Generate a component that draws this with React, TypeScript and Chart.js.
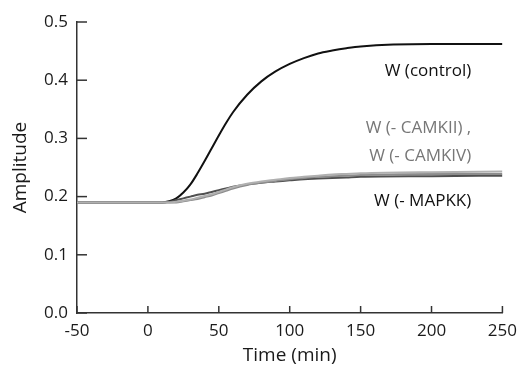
import React, { useEffect, useRef } from "react";
import { Chart, registerables } from "chart.js";

Chart.register(...registerables);

const times = [-50, 0, 10, 15, 20, 25, 30, 35, 40, 45, 50, 55, 60, 70, 80, 90, 100, 110, 120, 130, 140, 150, 200, 250];
const control = [0.19, 0.19, 0.19, 0.192, 0.197, 0.207, 0.221, 0.24, 0.261, 0.283, 0.305, 0.326, 0.345, 0.375, 0.398, 0.415, 0.428, 0.438, 0.446, 0.451, 0.455, 0.458, 0.462, 0.462];
const camkii = [0.19, 0.19, 0.19, 0.19, 0.191, 0.193, 0.195, 0.198, 0.201, 0.204, 0.208, 0.212, 0.216, 0.222, 0.226, 0.229, 0.232, 0.234, 0.236, 0.238, 0.239, 0.24, 0.242, 0.243];
const camkiv = [0.19, 0.19, 0.19, 0.19, 0.19, 0.192, 0.194, 0.196, 0.199, 0.202, 0.206, 0.21, 0.214, 0.22, 0.224, 0.227, 0.23, 0.232, 0.234, 0.235, 0.236, 0.237, 0.239, 0.239];
const mapkk = [0.19, 0.19, 0.19, 0.191, 0.194, 0.197, 0.2, 0.203, 0.205, 0.208, 0.211, 0.214, 0.217, 0.221, 0.224, 0.226, 0.228, 0.23, 0.231, 0.232, 0.233, 0.234, 0.235, 0.236];

const xTicks = [-50, 0, 50, 100, 150, 200, 250];
const yTicks = [0, 0.1, 0.2, 0.3, 0.4, 0.5];

const labelTexts = ["W (control)", "W (- CAMKII) ,", "W (- CAMKIV)", "W (- MAPKK)"];
const labelX = [228, 228, 228, 228];
const labelY = [0.415, 0.318, 0.269, 0.192];
const labelColors = ["#111111", "#777777", "#777777", "#111111"];

const FONT = "'Open Sans', sans-serif";

const toPts = (arr: number[]) => arr.map((v, i) => ({ x: times[i], y: v }));

const insideTicks = {
  id: "insideTicks",
  afterDatasetsDraw(chart: any) {
    const { ctx, scales } = chart;
    const xs = scales.x;
    const ys = scales.y;
    ctx.save();
    ctx.strokeStyle = "#333";
    ctx.lineWidth = 1.5;
    yTicks.forEach((v) => {
      const py = ys.getPixelForValue(v);
      ctx.beginPath();
      ctx.moveTo(xs.left, py);
      ctx.lineTo(xs.left + 10, py);
      ctx.stroke();
    });
    xTicks.forEach((v) => {
      const px = xs.getPixelForValue(v);
      ctx.beginPath();
      ctx.moveTo(px, ys.bottom);
      ctx.lineTo(px, ys.bottom - 7);
      ctx.stroke();
    });
    ctx.font = `17px ${FONT}`;
    ctx.textAlign = "right";
    ctx.textBaseline = "middle";
    labelTexts.forEach((t, i) => {
      ctx.fillStyle = labelColors[i];
      ctx.fillText(t, xs.getPixelForValue(labelX[i]), ys.getPixelForValue(labelY[i]));
    });
    ctx.restore();
  },
};

export default function App() {
  const ref = useRef<HTMLCanvasElement | null>(null);
  useEffect(() => {
    if (!ref.current) return;
    const line = (data: number[], color: string, w: number) => ({
      data: toPts(data),
      borderColor: color,
      borderWidth: w,
      pointRadius: 0,
      cubicInterpolationMode: "monotone" as const,
      fill: false,
    });
    const chart = new Chart(ref.current, {
      type: "line",
      data: {
        datasets: [
          line(camkii, "#b0b0b0", 2),
          line(camkiv, "#8c8c8c", 2),
          line(mapkk, "#505050", 2),
          line(control, "#111111", 2),
        ],
      },
      options: {
        animation: false,
        responsive: false,
        maintainAspectRatio: false,
        layout: { padding: { left: 0, top: 22, right: 18, bottom: 0 } },
        plugins: { legend: { display: false }, tooltip: { enabled: false } },
        scales: {
          x: {
            type: "linear",
            min: -50,
            max: 250,
            afterFit: (s: any) => {
              s.height = 54;
            },
            afterBuildTicks: (s: any) => {
              s.ticks = xTicks.map((v) => ({ value: v }));
            },
            grid: { display: false, drawTicks: false },
            border: { display: true, color: "#333", width: 1.5 },
            ticks: {
              color: "#1a1a1a",
              font: { family: FONT, size: 17 },
              padding: 8,
              maxRotation: 0,
              autoSkip: false,
            },
            title: {
              display: true,
              text: "Time (min)",
              color: "#1a1a1a",
              font: { family: FONT, size: 19 },
              padding: { top: 0, bottom: 0 },
            },
          },
          y: {
            min: 0,
            max: 0.5,
            afterFit: (s: any) => {
              s.width = 77;
            },
            afterBuildTicks: (s: any) => {
              s.ticks = yTicks.map((v) => ({ value: v }));
            },
            grid: { display: false, drawTicks: false },
            border: { display: true, color: "#333", width: 1.5 },
            ticks: {
              color: "#1a1a1a",
              font: { family: FONT, size: 17 },
              padding: 9,
              callback: (v: any) => Number(v).toFixed(1),
            },
            title: {
              display: true,
              text: "Amplitude",
              color: "#1a1a1a",
              font: { family: FONT, size: 19 },
              padding: { top: 9, bottom: 0 },
            },
          },
        },
      },
      plugins: [insideTicks],
    });
    return () => chart.destroy();
  }, []);
  return (
    <div style={{ position: "fixed", left: 0, top: 0, width: 525, height: 367, background: "#fff" }}>
      <canvas ref={ref} width={525} height={367} style={{ width: 525, height: 367 }} />
    </div>
  );
}
